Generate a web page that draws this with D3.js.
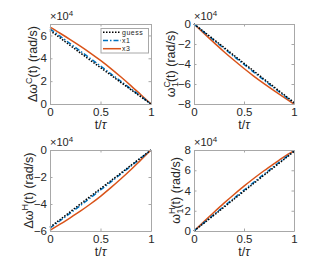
<!DOCTYPE html>
<html><head><meta charset="utf-8">
<script src="https://cdn.jsdelivr.net/npm/d3@7"></script>
<style>body{margin:0;background:#fff}svg{display:block}</style>
</head><body><svg id="c" width="325" height="266"></svg>
<script>
const tValues = [0,0.1,0.2,0.3,0.4,0.5,0.6,0.7,0.8,0.9,1];
const xTicks = [0,0.5,1];
const seriesNames = ["guess","x1","x3"];

const dwC_guess = [6.43,5.78,5.12,4.47,3.82,3.18,2.54,1.90,1.26,0.63,0];
const dwC_x1    = [6.58,5.93,5.28,4.63,3.98,3.32,2.66,2.00,1.34,0.67,0];
const dwC_x3    = [6.72,6.19,5.64,5.07,4.46,3.81,3.12,2.38,1.61,0.81,0];

const w1C_guess = [0,-0.78,-1.56,-2.35,-3.14,-3.93,-4.72,-5.51,-6.29,-7.07,-7.85];
const w1C_x1    = [0,-0.82,-1.63,-2.44,-3.24,-4.04,-4.83,-5.61,-6.39,-7.15,-7.90];
const w1C_x3    = [0,-0.94,-1.86,-2.77,-3.63,-4.45,-5.23,-5.96,-6.66,-7.34,-8.00];

const dwH_guess = [-5.72,-5.15,-4.58,-4.00,-3.43,-2.86,-2.29,-1.72,-1.14,-0.57,0];
const dwH_x1    = [-5.78,-5.24,-4.68,-4.12,-3.54,-2.96,-2.38,-1.79,-1.20,-0.60,0];
const dwH_x3    = [-5.95,-5.49,-5.02,-4.53,-4.00,-3.43,-2.81,-2.15,-1.46,-0.73,0];

const w1H_guess = [0,0.78,1.56,2.35,3.14,3.93,4.72,5.51,6.29,7.07,7.85];
const w1H_x1    = [0,0.82,1.63,2.44,3.24,4.04,4.83,5.61,6.39,7.15,7.90];
const w1H_x3    = [0,0.93,1.85,2.75,3.61,4.43,5.21,5.95,6.65,7.33,7.95];

const yTicks1 = [0,2,4,6], yTicks2 = [-8,-6,-4,-2,0], yTicks3 = [-6,-4,-2,0], yTicks4 = [0,2,4,6,8];

const panels = [
  {box:[50,24,151,104], ydom:[0,7], yt:yTicks1, s:[dwC_guess,dwC_x1,dwC_x3], lx:13, lab:[["Δω",""],["C","sup"],["(t) (rad/s)",""]], legend:true},
  {box:[194,24,294,104], ydom:[-8,0], yt:yTicks2, s:[w1C_guess,w1C_x1,w1C_x3], lx:19, lab:[["ω",""],["C","sup"],["1","sub"],["(t) (rad/s)",""]]},
  {box:[50,150,151,231], ydom:[-6,0], yt:yTicks3, s:[dwH_guess,dwH_x1,dwH_x3], lx:17, lab:[["Δω",""],["H","sup"],["(t) (rad/s)",""]]},
  {box:[194,150,294,231], ydom:[0,8], yt:yTicks4, s:[w1H_guess,w1H_x1,w1H_x3], lx:14, lab:[["ω",""],["H","sup"],["1","sub"],["(t) (rad/s)",""]]}
];

const colors = ["#000000","#0072BD","#D95319"];
const dashes = ["1.5,1.5","5,2,1.5,2",null];
const font = "'Liberation Sans', Arial, sans-serif";
const svg = d3.select("#c");
const axCol = "#a8a8a8", txtCol = "#262626";

panels.forEach(p => {
  const [x0,y0,x1,y1] = p.box;
  const x = d3.scaleLinear().domain([0,1]).range([x0,x1]);
  const y = d3.scaleLinear().domain(p.ydom).range([y1,y0]);
  const g = svg.append("g");
  const line = d3.line().x((d,i)=>x(tValues[i])).y(d=>y(d)).curve(d3.curveMonotoneX);
  [2,1,0].forEach(k => {
    g.append("path").attr("d", line(p.s[k])).attr("fill","none")
      .attr("stroke", colors[k]).attr("stroke-width", 1.5)
      .attr("stroke-dasharray", dashes[k]);
  });
  const ax = d3.axisBottom(x).tickValues(xTicks).tickSizeInner(-2.5).tickSizeOuter(0).tickFormat(d3.format("~g"));
  const ay = d3.axisLeft(y).tickValues(p.yt).tickSizeInner(-2.5).tickSizeOuter(0).tickFormat(d3.format("~g"));
  const axT = d3.axisTop(x).tickValues(xTicks).tickSizeInner(-2.5).tickSizeOuter(0).tickFormat("");
  const ayR = d3.axisRight(y).tickValues(p.yt).tickSizeInner(-2.5).tickSizeOuter(0).tickFormat("");
  const gb = g.append("g").attr("transform",`translate(0,${y1})`).call(ax);
  const gl = g.append("g").attr("transform",`translate(${x0},0)`).call(ay);
  const gt = g.append("g").attr("transform",`translate(0,${y0})`).call(axT);
  const gr = g.append("g").attr("transform",`translate(${x1},0)`).call(ayR);
  [gb,gl,gt,gr].forEach(a => {
    a.selectAll("path.domain").attr("stroke",axCol).attr("stroke-width",1);
    a.selectAll(".tick line").attr("stroke",axCol);
    a.selectAll("text").attr("fill",txtCol).style("font-family",font).style("font-size","11.5px");
  });
  gb.selectAll("text").attr("dy","0.71em").attr("y",4);
  gl.selectAll("text").attr("x",-3);
  const xl = g.append("text").attr("x",(x0+x1)/2).attr("y",y1+25).attr("text-anchor","middle")
    .attr("fill",txtCol).style("font-family",font).style("font-size","12.5px");
  xl.append("tspan").text("t/");
  xl.append("tspan").text("τ").style("font-style","italic");
  const ex = g.append("text").attr("x",x0).attr("y",y0-4).attr("fill",txtCol)
    .style("font-family",font).style("font-size","11px");
  ex.append("tspan").text("×10");
  ex.append("tspan").text("4").attr("dy",-4).style("font-size","8px");
  const yl = g.append("text").attr("transform",`translate(${x0-p.lx},${(y0+y1)/2}) rotate(-90)`)
    .attr("text-anchor","middle").attr("fill",txtCol).style("font-family",font).style("font-size","12.5px");
  let prev = "";
  p.lab.forEach(([t,kind]) => {
    const ts = yl.append("tspan").text(t);
    if (kind === "sup") { ts.attr("dy",-5).style("font-size","9px"); }
    else if (kind === "sub") { ts.attr("dy",8).attr("dx",-6).style("font-size","9px"); }
    else if (prev === "sup") { ts.attr("dy",5); }
    else if (prev === "sub") { ts.attr("dy",-3); }
    prev = kind;
  });
  if (p.legend) {
    const lg = g.append("g");
    lg.append("rect").attr("x",101).attr("y",28.5).attr("width",47.5).attr("height",24.5)
      .attr("fill","#fff").attr("stroke",axCol).attr("stroke-width",1);
    seriesNames.forEach((n,k) => {
      const yy = 32.3 + k*8.2;
      lg.append("line").attr("x1",103).attr("x2",121).attr("y1",yy).attr("y2",yy)
        .attr("stroke",colors[k]).attr("stroke-width",1.5).attr("stroke-dasharray",dashes[k]);
      lg.append("text").attr("x",122).attr("y",yy).attr("dy","0.35em").text(n)
        .attr("fill",txtCol).style("font-family",font).style("font-size","7px").style("letter-spacing","0.5px");
    });
  }
});
</script></body></html>
